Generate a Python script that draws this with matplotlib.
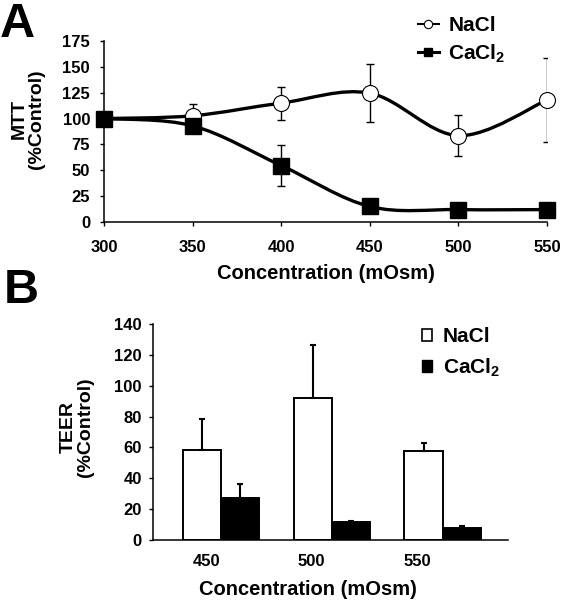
import numpy as np
import matplotlib
matplotlib.use("Agg")
import matplotlib.pyplot as plt
from matplotlib.path import Path
from matplotlib.patches import PathPatch, Patch
from matplotlib.lines import Line2D

plt.rcParams["font.family"] = ["Liberation Sans", "DejaVu Sans"]
plt.rcParams["font.weight"] = "bold"
plt.rcParams["mathtext.fontset"] = "custom"
plt.rcParams["mathtext.rm"] = "Liberation Sans:bold"
plt.rcParams["mathtext.bf"] = "Liberation Sans:bold"

# panel A: MTT
conc_a = [300, 350, 400, 450, 500, 550]
nacl_mtt = [100, 102.7, 115, 124.6, 83.5, 118]
nacl_mtt_err = [0, 11, 16, 28, 20, 41]
cacl_mtt = [100, 93, 54.6, 15, 12, 12]
cacl_mtt_err = [0, 2, 19.5, 6, 6, 2]

# panel B: TEER
conc_b = ["450", "500", "550"]
nacl_teer = [58.3, 92.2, 57.9]
nacl_teer_err = [19.9, 34.2, 5.2]
cacl_teer = [27, 11.4, 7.6]
cacl_teer_err = [9, 1.1, 1.5]

CACL_LABEL = "CaCl$_2$"


def smooth_path(x, y):
    # Excel style smoothed line: cubic bezier through the points
    pts = np.column_stack([x, y]).astype(float)
    p = np.vstack([pts[0], pts, pts[-1]])
    verts = [pts[0]]
    codes = [Path.MOVETO]
    for i in range(len(pts) - 1):
        p0, p1, p2, p3 = p[i], p[i + 1], p[i + 2], p[i + 3]
        verts += [p1 + (p2 - p0) / 6, p2 - (p3 - p1) / 6, p2]
        codes += [Path.CURVE4] * 3
    return Path(verts, codes)


def style_axes(ax):
    for s in ["top", "right"]:
        ax.spines[s].set_visible(False)
    for s in ["left", "bottom"]:
        ax.spines[s].set_linewidth(1.1)
    ax.tick_params(direction="out", length=3, width=1, labelsize=12)


fig = plt.figure(figsize=(5.61, 6.0), dpi=100)

# ---- A ----
ax = fig.add_axes([104 / 561, 1 - 222 / 600, 443 / 561, 181 / 600])
style_axes(ax)
ax.add_patch(PathPatch(smooth_path(conc_a, nacl_mtt), fill=False, lw=2.4, color="black", zorder=2))
ax.add_patch(PathPatch(smooth_path(conc_a, cacl_mtt), fill=False, lw=2.4, color="black", zorder=2))
ax.errorbar(conc_a, nacl_mtt, yerr=nacl_mtt_err, fmt="none", ecolor="black",
            elinewidth=1, capsize=3, capthick=1, zorder=1)
ax.errorbar(conc_a, cacl_mtt, yerr=cacl_mtt_err, fmt="none", ecolor="black",
            elinewidth=1, capsize=3, capthick=1, zorder=1)
ax.plot(conc_a, nacl_mtt, "o", ms=11.5, mfc="white", mec="black", mew=0.8,
        zorder=3, clip_on=False)
ax.plot(conc_a, cacl_mtt, "s", ms=11, mfc="black", mec="black",
        zorder=4, clip_on=False)
ax.set_xlim(300, 550)
ax.set_ylim(0, 175)
ax.set_xticks(range(300, 551, 50))
ax.set_yticks(range(0, 176, 25))
ax.tick_params(axis="x", pad=10)
ax.tick_params(axis="y", pad=7)
ax.set_xlabel("Concentration (mOsm)", fontsize=14.5, fontweight="bold")
ax.xaxis.set_label_coords(0.5, -0.23)
ax.text(-0.172, 0.569, "MTT\n(%Control)", transform=ax.transAxes, rotation=90,
        ha="center", va="center", fontsize=14, fontweight="bold",
        multialignment="center", linespacing=1.0)

handles_a = [
    Line2D([], [], color="black", lw=1.5, marker="o", ms=6, mfc="white", mec="black", mew=0.8),
    Line2D([], [], color="black", lw=2.2, marker="s", ms=6, mfc="black", mec="black"),
]
ax.legend(handles_a, ["NaCl", CACL_LABEL], loc="upper left",
          bbox_to_anchor=(418 / 561, 1 - 16 / 600), bbox_transform=fig.transFigure,
          frameon=False, fontsize=15, borderpad=0, borderaxespad=0,
          handlelength=1.0, handletextpad=0.45, labelspacing=0.35)

# ---- B ----
bx = fig.add_axes([153 / 561, 1 - 540 / 600, 355 / 561, 216 / 600])
style_axes(bx)
x = np.arange(len(conc_b))
w = 0.343
bx.bar(x - w / 2, nacl_teer, w, color="white", edgecolor="black", lw=1.4,
       yerr=[np.zeros(len(x)), nacl_teer_err], error_kw=dict(ecolor="black", elinewidth=1.5, capsize=2, capthick=1.5))
bx.bar(x + w / 2, cacl_teer, w, color="black", edgecolor="black", lw=1.4,
       yerr=[np.zeros(len(x)), cacl_teer_err], error_kw=dict(ecolor="black", elinewidth=1.5, capsize=2, capthick=1.5))
bx.set_xlim(-0.61, 2.59)
bx.set_ylim(0, 140)
bx.set_yticks(range(0, 141, 20))
# labels sit a little left of the group centres in the original
bx.set_xticks(x * 0.95 - 0.13)
bx.set_xticklabels(conc_b)
bx.tick_params(axis="x", length=0, pad=10)
bx.tick_params(axis="y", pad=5)
bx.set_xlabel("Concentration (mOsm)", fontsize=14.5, fontweight="bold")
bx.xaxis.set_label_coords(0.437, -0.185)
bx.text(-0.214, 0.523, "TEER\n(%Control)", transform=bx.transAxes, rotation=90,
        ha="center", va="center", fontsize=14, fontweight="bold",
        multialignment="center", linespacing=1.0)

handles_b = [Patch(facecolor="white", edgecolor="black", lw=1.2),
             Patch(facecolor="black", edgecolor="black")]
bx.legend(handles_b, ["NaCl", CACL_LABEL], loc="upper left",
          bbox_to_anchor=(422 / 561, 1 - 327 / 600), bbox_transform=fig.transFigure,
          frameon=False, fontsize=15, borderpad=0, borderaxespad=0,
          handlelength=0.5, handleheight=0.5, handletextpad=0.5, labelspacing=0.5)

fig.text(0.0, 0.997, "A", ha="left", va="top", fontsize=35, fontweight="bold")
fig.text(0.006, 1 - 268 / 600, "B", ha="left", va="top", fontsize=35, fontweight="bold")

fig.savefig("out.png", dpi=100)
